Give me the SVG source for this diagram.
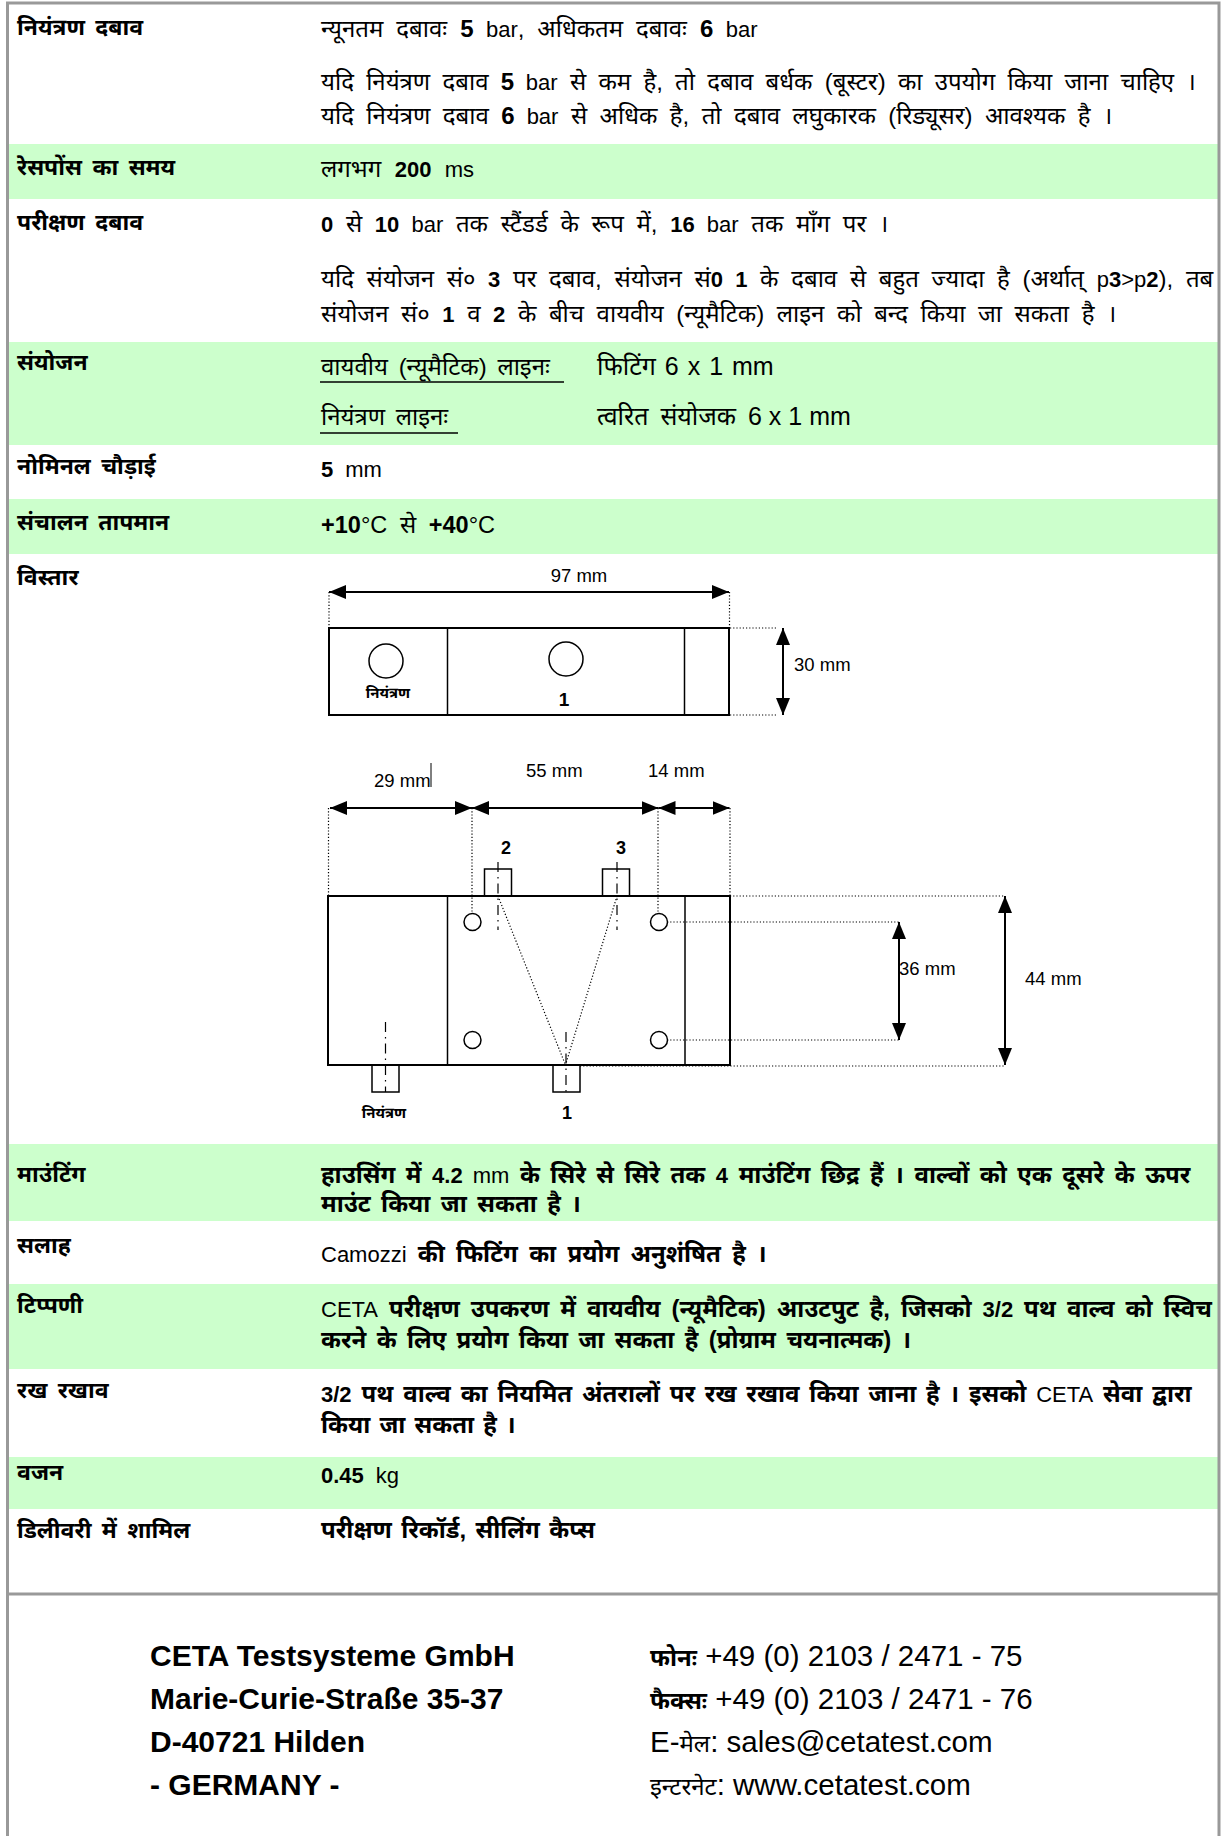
<svg xmlns="http://www.w3.org/2000/svg" width="1222" height="1836" viewBox="0 0 1222 1836">
<style>
text{font-family:'Liberation Sans','Noto Sans Devanagari','Noto Sans',sans-serif;fill:#000}
.lbl{font-size:23px;font-weight:bold;word-spacing:4px}
.v{font-size:24px;word-spacing:5.8px}
.vb{font-size:24px;font-weight:bold;word-spacing:3.7px}
.b{font-weight:bold}
.n{font-weight:normal}
.lat{font-size:22px}
.big{font-size:25px}
.dim{font-size:18.5px}
.ft{font-size:30px;font-weight:bold}
.fr{font-size:29.5px}
.fd{font-size:24px;font-weight:bold}
.fdn{font-size:24px}
.green{fill:#CCFFCC}
.out{fill:none;stroke:#000;stroke-width:2}
.thin{fill:none;stroke:#000;stroke-width:1.5}
.dot{fill:none;stroke:#000;stroke-width:1.2;stroke-dasharray:1.2,2}
.cl{fill:none;stroke:#000;stroke-width:1.2;stroke-dasharray:10,5,1.5,5}
.arr{fill:none;stroke:#000;stroke-width:2;marker-start:url(#ah);marker-end:url(#ah)}
.ul{stroke:#000;stroke-width:1.3}
</style>
<defs>
<marker id="ah" markerUnits="userSpaceOnUse" markerWidth="17" markerHeight="14" refX="17" refY="7" orient="auto-start-reverse">
<path d="M0,0 L17,7 L0,14 z" fill="#000"/>
</marker>
</defs>
<rect width="1222" height="1836" fill="#fff"/>
<g id="backgrounds">
<rect class="green" x="9" y="144" width="1209" height="55"/>
<rect class="green" x="9" y="342" width="1209" height="103"/>
<rect class="green" x="9" y="499" width="1209" height="55"/>
<rect class="green" x="9" y="1144" width="1209" height="77"/>
<rect class="green" x="9" y="1284" width="1209" height="85"/>
<rect class="green" x="9" y="1457" width="1209" height="52"/>
</g>
<g id="frame">
<rect x="7.5" y="3" width="1211.5" height="1900" fill="none" stroke="#999" stroke-width="3"/>
<line x1="7.5" y1="1594" x2="1219" y2="1594" stroke="#999" stroke-width="3"/>
</g>
<g id="row-control-pressure">
<text class="lbl" x="17" y="35">नियंत्रण दबाव</text>
<text class="v" x="321" y="37" style="word-spacing:6.3px">न्यूनतम दबावः <tspan class="b">5</tspan><tspan class="lat"> bar</tspan>, अधिकतम दबावः <tspan class="b">6</tspan><tspan class="lat"> bar</tspan></text>
<text class="v" x="321" y="90" style="word-spacing:5.6px">यदि नियंत्रण दबाव <tspan class="b">5</tspan><tspan class="lat"> bar</tspan> से कम है, तो दबाव बर्धक (बूस्टर) का उपयोग किया जाना चाहिए ।</text>
<text class="v" x="321" y="124" style="word-spacing:5.8px">यदि नियंत्रण दबाव <tspan class="b">6</tspan><tspan class="lat"> bar</tspan> से अधिक है, तो दबाव लघुकारक (रिड्यूसर) आवश्यक है ।</text>
</g>
<g id="row-response">
<text class="lbl" x="17" y="175">रेसपोंस का समय</text>
<text class="v" x="321" y="177" style="word-spacing:7px">लगभग <tspan class="b lat">200</tspan><tspan class="lat"> ms</tspan></text>
</g>
<g id="row-test-pressure">
<text class="lbl" x="17" y="230">परीक्षण दबाव</text>
<text class="v" x="321" y="232" style="word-spacing:6px"><tspan class="b lat">0</tspan> से <tspan class="b lat">10</tspan><tspan class="lat"> bar</tspan> तक स्टैंडर्ड के रूप में, <tspan class="b lat">16</tspan><tspan class="lat"> bar</tspan> तक माँग पर ।</text>
<text class="v" x="321" y="287" style="word-spacing:6px">यदि संयोजन सं० <tspan class="b lat">3</tspan> पर दबाव, संयोजन सं<tspan class="b lat">0 1</tspan> के दबाव से बहुत ज्यादा है (अर्थात् <tspan class="lat">p<tspan class="b">3</tspan>&gt;p<tspan class="b">2</tspan></tspan>), तब</text>
<text class="v" x="321" y="322" style="word-spacing:5.9px">संयोजन सं० <tspan class="b lat">1</tspan> व <tspan class="b lat">2</tspan> के बीच वायवीय (न्यूमैटिक) लाइन को बन्द किया जा सकता है ।</text>
</g>
<g id="row-connection">
<text class="lbl" x="17" y="370">संयोजन</text>
<text class="v" x="321" y="375" style="word-spacing:4px">वायवीय (न्यूमैटिक) लाइनः</text>
<line class="ul" x1="320" y1="382" x2="564" y2="382"/>
<text class="v" x="597" y="375" style="font-size:25px;word-spacing:2px">फिटिंग <tspan class="big">6 x 1 mm</tspan></text>
<text class="v" x="321" y="425" style="word-spacing:4px">नियंत्रण लाइनः</text>
<line class="ul" x1="320" y1="433" x2="458" y2="433"/>
<text class="v" x="597" y="425" style="font-size:25px;word-spacing:5px">त्वरित संयोजक <tspan class="big" style="word-spacing:0">6 x 1 mm</tspan></text>
</g>
<g id="row-nominal-width">
<text class="lbl" x="17" y="474">नोमिनल चौड़ाई</text>
<text class="v" x="321" y="477"><tspan class="b lat">5</tspan><tspan class="lat"> mm</tspan></text>
</g>
<g id="row-temperature">
<text class="lbl" x="17" y="530">संचालन तापमान</text>
<text class="v" x="321" y="533" style="word-spacing:6px"><tspan class="b" style="font-size:23.5px">+10</tspan><tspan style="font-size:23.5px">°C</tspan> से <tspan class="b" style="font-size:23.5px">+40</tspan><tspan style="font-size:23.5px">°C</tspan></text>
</g>
<g id="row-dimensions">
<text class="lbl" x="17" y="585">विस्तार</text>
</g>
<g id="diagram-top">
<rect class="out" x="329" y="628" width="400" height="87"/>
<line class="thin" x1="447.5" y1="628" x2="447.5" y2="715"/>
<line class="thin" x1="684.5" y1="628" x2="684.5" y2="715"/>
<circle class="thin" cx="386" cy="661" r="17"/>
<circle class="thin" cx="566" cy="659" r="17"/>
<text class="b" x="388" y="698" font-size="15" text-anchor="middle">नियंत्रण</text>
<text class="b" x="564" y="706" font-size="19" text-anchor="middle">1</text>
</g>
<g id="diagram-bottom">
<rect class="out" x="328" y="896" width="402" height="169"/>
<line class="thin" x1="447.5" y1="896" x2="447.5" y2="1065"/>
<line class="thin" x1="685" y1="896" x2="685" y2="1065"/>
<rect class="thin" x="484.5" y="869" width="27" height="27"/>
<rect class="thin" x="602.5" y="869" width="27" height="27"/>
<rect class="thin" x="553" y="1065" width="27" height="27"/>
<rect class="thin" x="372" y="1065" width="27" height="27"/>
<circle class="thin" cx="472.5" cy="922" r="8.5"/>
<circle class="thin" cx="472.5" cy="1040" r="8.5"/>
<circle class="thin" cx="659" cy="922" r="8.5"/>
<circle class="thin" cx="659" cy="1040" r="8.5"/>
<line class="cl" x1="498" y1="862" x2="498" y2="930"/>
<line class="cl" x1="617" y1="862" x2="617" y2="930"/>
<line class="cl" x1="566" y1="1032" x2="566" y2="1092"/>
<line class="cl" x1="385.5" y1="1022" x2="385.5" y2="1092"/>
<text class="b" x="506" y="854" font-size="18" text-anchor="middle">2</text>
<text class="b" x="621" y="854" font-size="18" text-anchor="middle">3</text>
<text class="b" x="384" y="1118" font-size="15" text-anchor="middle">नियंत्रण</text>
<text class="b" x="567" y="1119" font-size="18" text-anchor="middle">1</text>
</g>
<g id="connectors">
<line class="arr" x1="329" y1="592" x2="729" y2="592"/>
<line class="dot" x1="329" y1="592" x2="329" y2="628"/>
<line class="dot" x1="729.5" y1="592" x2="729.5" y2="628"/>
<line class="dot" x1="730" y1="628" x2="778" y2="628"/>
<line class="dot" x1="730" y1="715" x2="778" y2="715"/>
<line class="arr" x1="783" y1="628" x2="783" y2="715"/>
<line class="arr" x1="330" y1="808" x2="472" y2="808"/>
<line class="arr" x1="472" y1="808" x2="658.5" y2="808"/>
<line class="arr" x1="658.5" y1="808" x2="729.5" y2="808"/>
<line class="dot" x1="328.5" y1="808" x2="328.5" y2="896"/>
<line class="dot" x1="472" y1="808" x2="472" y2="914"/>
<line class="dot" x1="658" y1="808" x2="658" y2="914"/>
<line class="dot" x1="730" y1="808" x2="730" y2="896"/>
<line class="dot" x1="498" y1="896" x2="565.5" y2="1065"/>
<line class="dot" x1="617" y1="896" x2="565.5" y2="1065"/>
<line class="dot" x1="730" y1="896" x2="1005" y2="896"/>
<line class="dot" x1="580" y1="1066" x2="1005" y2="1066"/>
<line class="dot" x1="667" y1="922" x2="899" y2="922"/>
<line class="dot" x1="667" y1="1040" x2="899" y2="1040"/>
<line class="arr" x1="899" y1="922" x2="899" y2="1040"/>
<line class="arr" x1="1005" y1="896" x2="1005" y2="1065"/>
<line stroke="#000" stroke-width="1" x1="431" y1="763" x2="431" y2="787"/>
</g>
<g id="dimension-labels">
<text class="dim" x="579" y="582" text-anchor="middle">97 mm</text>
<text class="dim" x="794" y="671">30 mm</text>
<text class="dim" x="374" y="787">29 mm</text>
<text class="dim" x="526" y="777">55 mm</text>
<text class="dim" x="648" y="777">14 mm</text>
<text class="dim" x="899" y="975">36 mm</text>
<text class="dim" x="1025" y="985">44 mm</text>
</g>
<g id="row-mounting">
<text class="lbl" x="17" y="1182">माउंटिंग</text>
<text class="vb" x="321" y="1183" style="word-spacing:3.9px">हाउसिंग में <tspan class="lat">4.2 </tspan><tspan class="n lat">mm</tspan> के सिरे से सिरे तक <tspan class="lat">4</tspan> माउंटिंग छिद्र हैं । वाल्वों को एक दूसरे के ऊपर</text>
<text class="vb" x="321" y="1212" style="word-spacing:3.8px">माउंट किया जा सकता है ।</text>
</g>
<g id="row-advice">
<text class="lbl" x="17" y="1253">सलाह</text>
<text class="vb" x="321" y="1262" style="word-spacing:4.6px"><tspan class="n lat">Camozzi</tspan> की फिटिंग का प्रयोग अनुशंषित है ।</text>
</g>
<g id="row-note">
<text class="lbl" x="17" y="1313">टिप्पणी</text>
<text class="vb" x="321" y="1317" style="word-spacing:4.3px"><tspan class="n lat">CETA</tspan> परीक्षण उपकरण में वायवीय (न्यूमैटिक) आउटपुट है, जिसको <tspan class="lat">3/2</tspan> पथ वाल्व को स्विच</text>
<text class="vb" x="321" y="1348" style="word-spacing:3.7px">करने के लिए प्रयोग किया जा सकता है (प्रोग्राम चयनात्मक) ।</text>
</g>
<g id="row-maintenance">
<text class="lbl" x="17" y="1398">रख रखाव</text>
<text class="vb" x="321" y="1402" style="word-spacing:3.2px"><tspan class="lat">3/2</tspan> पथ वाल्व का नियमित अंतरालों पर रख रखाव किया जाना है । इसको <tspan class="n lat">CETA</tspan> सेवा द्वारा</text>
<text class="vb" x="321" y="1433" style="word-spacing:2.5px">किया जा सकता है ।</text>
</g>
<g id="row-weight">
<text class="lbl" x="17" y="1480">वजन</text>
<text class="v" x="321" y="1483"><tspan class="b lat">0.45</tspan><tspan class="lat"> kg</tspan></text>
</g>
<g id="row-delivery">
<text class="lbl" x="17" y="1538">डिलीवरी में शामिल</text>
<text class="vb" x="321" y="1538" style="word-spacing:2.7px">परीक्षण रिकॉर्ड, सीलिंग कैप्स</text>
</g>
<g id="footer">
<text class="ft" x="150" y="1666">CETA Testsysteme GmbH</text>
<text class="ft" x="150" y="1709">Marie-Curie-Straße 35-37</text>
<text class="ft" x="150" y="1752">D-40721 Hilden</text>
<text class="ft" x="150" y="1795">- GERMANY -</text>
<text class="fr" x="650" y="1666"><tspan class="fd">फोनः</tspan> +49 (0) 2103 / 2471 - 75</text>
<text class="fr" x="650" y="1709"><tspan class="fd">फैक्सः</tspan> +49 (0) 2103 / 2471 - 76</text>
<text class="fr" x="650" y="1752">E-<tspan class="fdn">मेल</tspan>: sales@cetatest.com</text>
<text class="fr" x="650" y="1795"><tspan class="fdn">इन्टरनेट</tspan>: www.cetatest.com</text>
</g>
</svg>
